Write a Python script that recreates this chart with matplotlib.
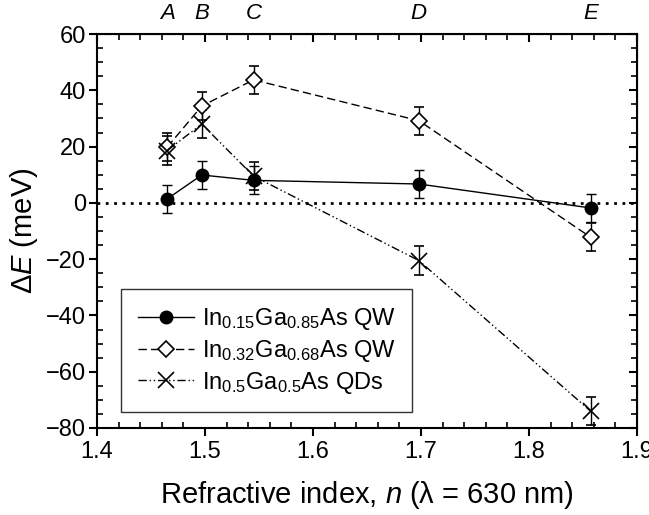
import matplotlib

matplotlib.use("Agg")
import matplotlib.pyplot as plt
from matplotlib.lines import Line2D
from matplotlib.ticker import MultipleLocator

plt.rcParams["font.family"] = ["Liberation Sans", "DejaVu Sans"]
plt.rcParams["mathtext.fontset"] = "custom"
plt.rcParams["mathtext.rm"] = "Liberation Sans"
plt.rcParams["mathtext.it"] = "Liberation Sans:italic"

# sample positions (refractive index) and their letters
n_index = [1.465, 1.497, 1.545, 1.698, 1.857]
letters = ["A", "B", "C", "D", "E"]

# energy shifts (meV) and error bars
de_qw015 = [1.4, 9.9, 8.0, 6.7, -1.8]
de_qw032 = [19.8, 34.4, 43.7, 29.2, -12.2]
de_qd05 = [18.6, 28.0, 9.5, -20.5, -74.0]
err_qw015 = [5, 5, 5, 5, 5]
err_qw032 = [5, 5, 5, 5, 5]
err_qd05 = [5, 5, 5, 5, 5]

labels = [
    r"In$_{0.15}$Ga$_{0.85}$As QW",
    r"In$_{0.32}$Ga$_{0.68}$As QW",
    r"In$_{0.5}$Ga$_{0.5}$As QDs",
]

fig = plt.figure(figsize=(6.49, 5.15), dpi=100)
ax = fig.add_axes([97 / 649, 1 - 428 / 515, 540 / 649, 394 / 515])

ax.axhline(0, color="black", ls=(0, (1, 2)), lw=2, zorder=1)

ls_dash = (0, (6, 3))
ls_dd = (0, (6, 2, 1, 2, 1, 2))
common = dict(color="black", lw=1, capsize=3.5, elinewidth=1, capthick=1)
ax.errorbar(n_index, de_qw015, yerr=err_qw015, fmt="o", ls="-", ms=9,
            mfc="black", mec="black", **common)
ax.errorbar(n_index, de_qw032, yerr=err_qw032, fmt="D", ls=ls_dash, ms=8.5,
            mfc="white", mec="black", mew=1.2, **common)
ax.errorbar(n_index, de_qd05, yerr=err_qd05, fmt="x", ls=ls_dd, ms=11,
            mec="black", mew=1.2, **common)

ax.set_xlim(1.4, 1.9)
ax.set_ylim(-80, 60)
ax.xaxis.set_major_locator(MultipleLocator(0.1))
ax.xaxis.set_minor_locator(MultipleLocator(0.02))
ax.yaxis.set_major_locator(MultipleLocator(20))
ax.yaxis.set_minor_locator(MultipleLocator(5))
ax.tick_params(which="major", direction="out", length=6, width=1.5, labelsize=17)
ax.tick_params(which="minor", direction="in", length=4, width=1.2)
ax.tick_params(axis="x", pad=3)
ax.tick_params(axis="y", pad=2)
for s in ax.spines.values():
    s.set_linewidth(1.5)

top = ax.secondary_xaxis("top")
top.xaxis.set_major_locator(MultipleLocator(0.1))
top.xaxis.set_minor_locator(MultipleLocator(0.02))
top.tick_params(which="major", direction="in", length=6, width=1.5, labeltop=False)
top.tick_params(which="minor", direction="in", length=4, width=1.2)
right = ax.secondary_yaxis("right")
right.yaxis.set_major_locator(MultipleLocator(20))
right.yaxis.set_minor_locator(MultipleLocator(5))
right.tick_params(which="major", direction="in", length=6, width=1.5, labelright=False)
right.tick_params(which="minor", direction="in", length=4, width=1.2)

for x, t in zip(n_index, letters):
    ax.text(x, 1.025, t, transform=ax.get_xaxis_transform(), ha="center", va="bottom",
            fontsize=16, style="italic")

ax.set_xlabel(r"Refractive index, $\it{n}$ (λ = 630 nm)", fontsize=21, labelpad=12)
ax.set_ylabel(r"$\Delta\it{E}$ (meV)", fontsize=21, labelpad=4)

handles = [
    Line2D([], [], color="black", lw=1, ls="-", marker="o", ms=9, mfc="black"),
    Line2D([], [], color="black", lw=1, ls=ls_dash, marker="D", ms=8.5, mfc="white", mew=1.2),
    Line2D([], [], color="black", lw=1, ls=ls_dd, marker="x", ms=11, mew=1.2),
]
leg = ax.legend(handles, labels, loc="lower left", bbox_to_anchor=(0.045, 0.04), fontsize=17,
                frameon=True, fancybox=False, edgecolor="black", handlelength=2.4,
                handletextpad=0.3, borderpad=0.7, labelspacing=0.25, borderaxespad=0)
leg.get_frame().set_linewidth(1)

fig.savefig("out.png", dpi=100)
